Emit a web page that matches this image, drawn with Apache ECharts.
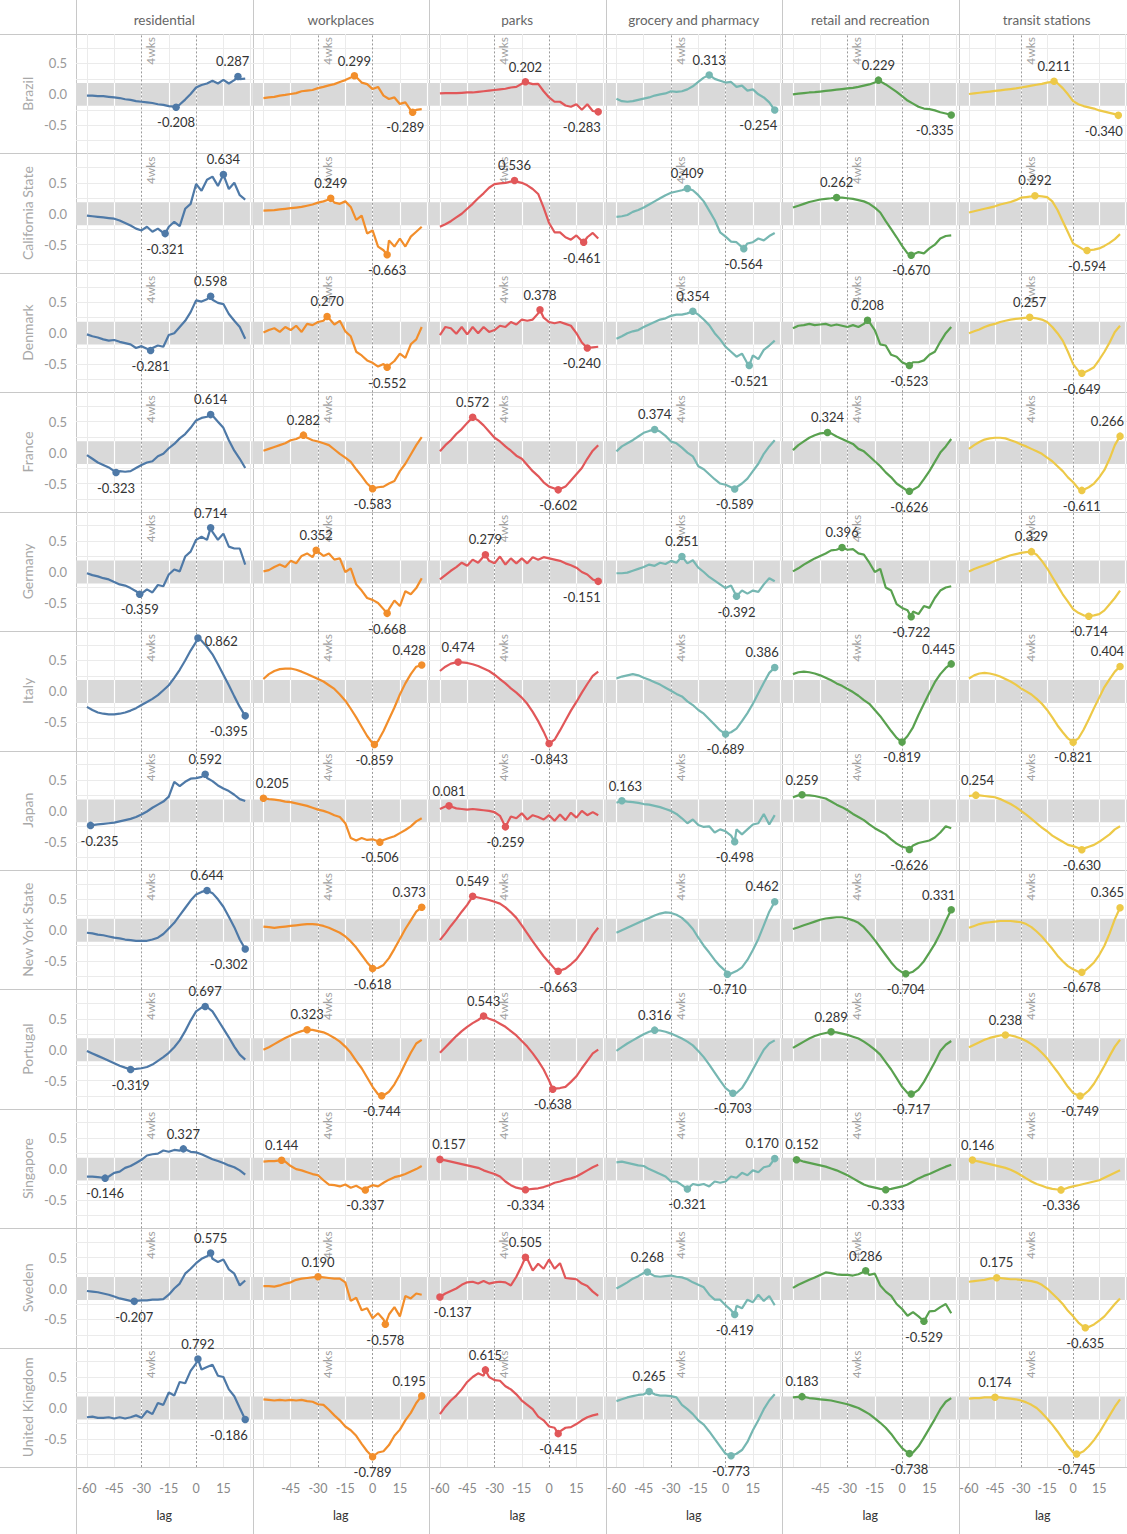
<!DOCTYPE html>
<html lang="en">
<head>
<meta charset="UTF-8">
<script src="https://cdn.jsdelivr.net/npm/echarts@6/dist/echarts.min.js"></script>
<title>Mobility change vs. lag</title>
<style>
  html, body { margin: 0; padding: 0; background: #fff; }
  #main { width: 1127px; height: 1534px; }
</style>
</head>
<body>
<div id="main"></div>
<script>
// sampled lags (every 3 days); peak points are merged in where they fall between samples
const lags = [-60,-57,-54,-51,-48,-45,-42,-39,-36,-33,-30,-27,-24,-21,-18,-15,-12,-9,-6,-3,0,3,6,9,12,15,18,21,24,27];
const regions = ['Brazil','California State','Denmark','France','Germany','Italy','Japan','New York State','Portugal','Singapore','Sweden','United Kingdom'];
const measures = ['residential','workplaces','parks','grocery and pharmacy','retail and recreation','transit stations'];
const colors = ['#4e79a7','#f28e2b','#e15759','#76b7b2','#59a14f','#edc948'];
const xTicks = [[-60,-45,-30,-15,0,15],[-45,-30,-15,0,15],[-60,-45,-30,-15,0,15],[-60,-45,-30,-15,0,15],[-45,-30,-15,0,15],[-60,-45,-30,-15,0,15]];
const yTicks = [-0.5, 0, 0.5];

// one array per region: residential, workplaces, parks, grocery, retail, transit
const brazil = [
  [-0.02,-0.02,-0.03,-0.03,-0.04,-0.05,-0.06,-0.08,-0.09,-0.11,-0.12,-0.13,-0.14,-0.16,-0.17,-0.19,-0.2,-0.165,-0.085,0.005,0.11,0.15,0.175,0.22,0.175,0.235,0.175,0.23,0.245,0.255],
  [-0.06,-0.05,-0.04,-0.02,-0.01,0.005,0.02,0.05,0.06,0.07,0.1,0.12,0.145,0.165,0.2,0.23,0.27,0.28,0.19,0.165,0.085,0.12,-0.02,-0.075,-0.05,-0.155,-0.13,-0.26,-0.25,-0.24],
  [0.015,0.02,0.02,0.02,0.025,0.03,0.03,0.04,0.05,0.06,0.07,0.08,0.09,0.11,0.12,0.17,0.19,0.165,0.17,0.05,-0.05,-0.12,-0.12,-0.18,-0.2,-0.16,-0.25,-0.16,-0.27,-0.283],
  [-0.07,-0.11,-0.12,-0.11,-0.09,-0.07,-0.05,-0.02,0.0,0.015,0.05,0.04,0.05,0.08,0.13,0.2,0.27,0.313,0.25,0.22,0.19,0.2,0.12,0.14,0.06,0.08,0.0,-0.05,-0.13,-0.254],
  [0.0,0.01,0.02,0.03,0.035,0.045,0.055,0.065,0.075,0.085,0.095,0.105,0.12,0.14,0.16,0.19,0.21,0.16,0.1,0.04,-0.03,-0.1,-0.15,-0.2,-0.23,-0.24,-0.26,-0.29,-0.31,-0.335],
  [0.005,0.015,0.025,0.035,0.045,0.055,0.065,0.075,0.085,0.095,0.11,0.125,0.14,0.155,0.17,0.19,0.2,0.18,0.1,0.0,-0.11,-0.16,-0.19,-0.21,-0.23,-0.26,-0.28,-0.3,-0.32,-0.335]
];
const california = [
  [-0.03,-0.04,-0.05,-0.06,-0.07,-0.08,-0.11,-0.15,-0.19,-0.24,-0.27,-0.21,-0.29,-0.24,-0.31,-0.21,-0.13,-0.2,0.08,0.16,0.48,0.37,0.55,0.6,0.45,0.634,0.4,0.5,0.3,0.23],
  [0.05,0.055,0.06,0.07,0.08,0.09,0.1,0.11,0.13,0.15,0.18,0.2,0.23,0.18,0.16,0.2,0.11,-0.1,-0.03,-0.32,-0.27,-0.53,-0.59,-0.43,-0.53,-0.4,-0.53,-0.37,-0.29,-0.21],
  [-0.21,-0.17,-0.12,-0.06,0.0,0.08,0.16,0.25,0.33,0.42,0.48,0.49,0.5,0.52,0.52,0.5,0.46,0.4,0.32,0.1,-0.15,-0.3,-0.3,-0.38,-0.42,-0.35,-0.44,-0.38,-0.31,-0.4],
  [-0.05,-0.04,-0.02,0.03,0.06,0.1,0.15,0.2,0.25,0.3,0.34,0.36,0.38,0.409,0.38,0.3,0.2,0.05,-0.1,-0.3,-0.37,-0.45,-0.46,-0.54,-0.48,-0.46,-0.4,-0.43,-0.36,-0.31],
  [0.1,0.13,0.16,0.19,0.21,0.23,0.24,0.25,0.262,0.26,0.25,0.24,0.22,0.2,0.16,0.1,0.02,-0.12,-0.25,-0.38,-0.52,-0.64,-0.66,-0.62,-0.64,-0.56,-0.5,-0.4,-0.36,-0.35],
  [0.02,0.04,0.06,0.08,0.1,0.12,0.15,0.17,0.19,0.22,0.26,0.27,0.28,0.29,0.28,0.27,0.2,0.06,-0.12,-0.3,-0.48,-0.53,-0.58,-0.59,-0.58,-0.56,-0.52,-0.47,-0.41,-0.33]
];
const denmark = [
  [-0.02,-0.05,-0.07,-0.1,-0.12,-0.11,-0.14,-0.16,-0.18,-0.24,-0.21,-0.25,-0.24,-0.2,-0.22,-0.03,0.0,0.1,0.2,0.34,0.53,0.51,0.55,0.54,0.49,0.47,0.31,0.2,0.1,-0.09],
  [0.01,0.05,0.08,0.02,0.1,0.05,0.12,0.02,0.15,0.13,0.18,0.2,0.24,0.14,0.2,0.03,-0.05,-0.3,-0.36,-0.44,-0.48,-0.54,-0.5,-0.52,-0.45,-0.33,-0.4,-0.18,-0.1,0.1],
  [-0.03,0.1,0.08,-0.01,0.1,-0.02,0.1,0.0,0.1,0.02,0.05,0.12,0.1,0.18,0.14,0.22,0.2,0.22,0.32,0.25,0.18,0.16,0.18,0.15,0.12,0.0,-0.15,-0.24,-0.23,-0.22],
  [-0.09,-0.05,0.0,0.03,0.05,0.1,0.14,0.18,0.22,0.24,0.28,0.3,0.3,0.32,0.354,0.3,0.22,0.13,0.0,-0.1,-0.22,-0.3,-0.38,-0.33,-0.49,-0.36,-0.42,-0.27,-0.2,-0.12],
  [0.08,0.12,0.13,0.15,0.13,0.14,0.15,0.12,0.14,0.12,0.1,0.13,0.1,0.15,0.18,0.05,-0.18,-0.2,-0.35,-0.38,-0.47,-0.51,-0.47,-0.47,-0.44,-0.35,-0.3,-0.14,0.0,0.1],
  [0.0,0.03,0.06,0.1,0.13,0.15,0.18,0.2,0.22,0.23,0.24,0.25,0.25,0.24,0.22,0.18,0.1,0.0,-0.12,-0.3,-0.5,-0.61,-0.64,-0.6,-0.55,-0.43,-0.3,-0.15,0.02,0.12]
];
const france = [
  [-0.04,-0.1,-0.16,-0.2,-0.24,-0.3,-0.3,-0.31,-0.3,-0.25,-0.2,-0.16,-0.14,-0.06,-0.02,0.07,0.14,0.23,0.3,0.4,0.52,0.56,0.58,0.6,0.5,0.4,0.2,0.03,-0.1,-0.25],
  [0.03,0.06,0.09,0.12,0.15,0.2,0.22,0.26,0.24,0.2,0.18,0.15,0.12,0.05,-0.02,-0.08,-0.15,-0.27,-0.38,-0.5,-0.583,-0.56,-0.55,-0.5,-0.46,-0.3,-0.18,-0.03,0.12,0.25],
  [0.02,0.12,0.2,0.3,0.38,0.48,0.572,0.52,0.44,0.34,0.24,0.18,0.1,0.03,-0.05,-0.1,-0.2,-0.3,-0.38,-0.48,-0.55,-0.58,-0.59,-0.55,-0.45,-0.35,-0.25,-0.1,0.03,0.12],
  [0.02,0.1,0.15,0.2,0.26,0.32,0.35,0.374,0.34,0.27,0.18,0.15,0.08,0.0,-0.06,-0.22,-0.27,-0.35,-0.43,-0.5,-0.52,-0.56,-0.56,-0.5,-0.42,-0.3,-0.18,-0.02,0.1,0.2],
  [0.04,0.12,0.18,0.24,0.28,0.31,0.32,0.31,0.26,0.22,0.18,0.14,0.06,0.02,-0.06,-0.14,-0.22,-0.32,-0.4,-0.5,-0.56,-0.62,-0.6,-0.55,-0.43,-0.3,-0.15,0.0,0.1,0.22],
  [0.06,0.12,0.17,0.21,0.23,0.24,0.24,0.23,0.2,0.17,0.13,0.1,0.06,0.02,-0.02,-0.08,-0.14,-0.22,-0.3,-0.4,-0.48,-0.58,-0.6,-0.56,-0.5,-0.4,-0.28,-0.1,0.12,0.266]
];
const germany = [
  [-0.02,-0.05,-0.07,-0.1,-0.12,-0.16,-0.2,-0.22,-0.26,-0.31,-0.35,-0.28,-0.33,-0.21,-0.23,-0.04,0.04,0.01,0.25,0.33,0.52,0.57,0.52,0.65,0.52,0.62,0.41,0.38,0.38,0.12],
  [0.01,0.03,0.08,0.12,0.08,0.18,0.14,0.26,0.3,0.24,0.33,0.26,0.3,0.2,0.22,0.0,0.06,-0.2,-0.3,-0.42,-0.45,-0.5,-0.6,-0.6,-0.46,-0.55,-0.31,-0.36,-0.26,-0.1],
  [-0.12,-0.05,0.02,0.08,0.15,0.1,0.2,0.15,0.25,0.18,0.14,0.25,0.12,0.22,0.14,0.22,0.14,0.24,0.2,0.24,0.22,0.2,0.18,0.14,0.11,0.07,0.0,-0.04,-0.12,-0.151],
  [-0.02,-0.02,-0.01,0.02,0.05,0.08,0.12,0.1,0.15,0.13,0.18,0.15,0.251,0.14,0.19,0.07,0.0,-0.08,-0.14,-0.2,-0.26,-0.22,-0.392,-0.3,-0.35,-0.3,-0.32,-0.2,-0.1,-0.15],
  [0.01,0.06,0.12,0.17,0.22,0.26,0.3,0.35,0.36,0.396,0.36,0.37,0.3,0.28,0.15,0.0,0.05,-0.25,-0.3,-0.52,-0.58,-0.62,-0.64,-0.68,-0.55,-0.58,-0.42,-0.3,-0.25,-0.23],
  [0.01,0.05,0.08,0.11,0.14,0.18,0.21,0.24,0.27,0.29,0.31,0.32,0.329,0.28,0.18,0.06,-0.08,-0.22,-0.36,-0.48,-0.6,-0.66,-0.7,-0.714,-0.7,-0.68,-0.62,-0.52,-0.42,-0.3]
];
const italy = [
  [-0.25,-0.3,-0.34,-0.36,-0.37,-0.37,-0.36,-0.34,-0.31,-0.27,-0.22,-0.17,-0.12,-0.06,0.02,0.1,0.22,0.35,0.5,0.66,0.8,0.82,0.72,0.6,0.44,0.27,0.1,-0.08,-0.25,-0.395],
  [0.2,0.28,0.33,0.36,0.37,0.37,0.35,0.32,0.28,0.24,0.2,0.16,0.1,0.04,-0.05,-0.15,-0.28,-0.42,-0.57,-0.72,-0.84,-0.8,-0.64,-0.45,-0.26,-0.05,0.13,0.28,0.4,0.428],
  [0.33,0.4,0.45,0.47,0.47,0.46,0.44,0.41,0.37,0.33,0.27,0.2,0.13,0.05,-0.02,-0.1,-0.2,-0.33,-0.48,-0.65,-0.843,-0.78,-0.63,-0.47,-0.31,-0.17,-0.02,0.12,0.25,0.32],
  [0.21,0.24,0.26,0.28,0.26,0.22,0.19,0.15,0.11,0.06,0.01,-0.04,-0.08,-0.16,-0.22,-0.3,-0.36,-0.45,-0.54,-0.63,-0.689,-0.66,-0.6,-0.48,-0.35,-0.2,-0.03,0.14,0.3,0.386],
  [0.28,0.31,0.32,0.31,0.29,0.26,0.22,0.18,0.13,0.09,0.04,-0.01,-0.07,-0.14,-0.2,-0.3,-0.4,-0.52,-0.64,-0.75,-0.819,-0.72,-0.58,-0.38,-0.2,-0.02,0.15,0.28,0.38,0.445],
  [0.21,0.26,0.29,0.3,0.29,0.27,0.24,0.2,0.16,0.11,0.05,0.0,-0.05,-0.12,-0.2,-0.3,-0.42,-0.55,-0.66,-0.76,-0.821,-0.76,-0.62,-0.45,-0.27,-0.1,0.07,0.2,0.32,0.404]
];
const japan = [
  [-0.23,-0.23,-0.22,-0.21,-0.2,-0.19,-0.17,-0.15,-0.13,-0.1,-0.06,-0.01,0.05,0.1,0.15,0.23,0.47,0.4,0.47,0.52,0.53,0.55,0.53,0.48,0.41,0.36,0.32,0.26,0.19,0.16],
  [0.205,0.19,0.18,0.17,0.15,0.14,0.12,0.1,0.08,0.05,0.02,0.0,-0.03,-0.07,-0.1,-0.2,-0.44,-0.48,-0.44,-0.47,-0.46,-0.49,-0.47,-0.44,-0.41,-0.36,-0.31,-0.25,-0.17,-0.12],
  [0.03,0.07,0.07,0.04,0.03,0.02,0.03,0.02,0.01,0.0,-0.02,-0.08,-0.259,-0.09,-0.12,-0.04,-0.14,-0.07,-0.1,-0.14,-0.07,-0.16,-0.06,-0.15,-0.03,-0.11,0.0,-0.07,-0.02,-0.07],
  [0.13,0.163,0.15,0.14,0.13,0.11,0.1,0.08,0.06,0.03,0.0,-0.05,-0.12,-0.2,-0.14,-0.23,-0.26,-0.25,-0.35,-0.3,-0.33,-0.4,-0.3,-0.38,-0.3,-0.22,-0.2,-0.05,-0.22,-0.07],
  [0.22,0.25,0.255,0.25,0.24,0.22,0.2,0.15,0.1,0.06,0.01,-0.05,-0.1,-0.15,-0.22,-0.28,-0.33,-0.38,-0.46,-0.53,-0.58,-0.6,-0.56,-0.52,-0.5,-0.48,-0.43,-0.35,-0.25,-0.28],
  [0.24,0.25,0.25,0.24,0.23,0.22,0.19,0.15,0.11,0.06,0.0,-0.06,-0.13,-0.2,-0.27,-0.33,-0.4,-0.45,-0.5,-0.55,-0.57,-0.6,-0.61,-0.58,-0.55,-0.5,-0.44,-0.38,-0.3,-0.25]
];
const newYork = [
  [-0.04,-0.05,-0.07,-0.08,-0.1,-0.12,-0.13,-0.15,-0.16,-0.17,-0.17,-0.17,-0.15,-0.12,-0.06,0.03,0.12,0.24,0.36,0.48,0.58,0.62,0.644,0.6,0.5,0.38,0.22,0.05,-0.15,-0.302],
  [0.06,0.05,0.04,0.05,0.06,0.07,0.08,0.09,0.1,0.1,0.09,0.07,0.04,0.0,-0.04,-0.1,-0.18,-0.28,-0.4,-0.52,-0.618,-0.61,-0.56,-0.45,-0.3,-0.14,0.02,0.16,0.3,0.373],
  [-0.16,-0.05,0.07,0.18,0.3,0.41,0.549,0.53,0.51,0.49,0.46,0.43,0.37,0.29,0.2,0.08,-0.05,-0.18,-0.3,-0.42,-0.52,-0.62,-0.65,-0.62,-0.55,-0.47,-0.35,-0.22,-0.07,0.04],
  [-0.04,0.0,0.04,0.08,0.12,0.16,0.2,0.24,0.27,0.29,0.28,0.25,0.2,0.12,0.02,-0.12,-0.25,-0.36,-0.48,-0.58,-0.66,-0.7,-0.66,-0.6,-0.48,-0.32,-0.14,0.08,0.3,0.462],
  [0.02,0.05,0.08,0.11,0.14,0.17,0.19,0.2,0.21,0.21,0.19,0.16,0.12,0.05,-0.05,-0.16,-0.28,-0.4,-0.52,-0.62,-0.68,-0.7,-0.67,-0.6,-0.5,-0.36,-0.22,-0.05,0.15,0.331],
  [0.04,0.07,0.1,0.12,0.13,0.14,0.15,0.15,0.15,0.14,0.13,0.1,0.05,-0.02,-0.1,-0.2,-0.3,-0.41,-0.5,-0.58,-0.63,-0.67,-0.67,-0.6,-0.52,-0.4,-0.25,-0.05,0.18,0.365]
];
const portugal = [
  [-0.02,-0.06,-0.1,-0.14,-0.18,-0.22,-0.26,-0.29,-0.319,-0.31,-0.3,-0.28,-0.24,-0.18,-0.12,-0.05,0.04,0.15,0.3,0.47,0.62,0.68,0.69,0.62,0.48,0.34,0.2,0.05,-0.08,-0.16],
  [0.0,0.04,0.09,0.14,0.19,0.23,0.27,0.3,0.323,0.32,0.3,0.28,0.24,0.19,0.13,0.05,-0.05,-0.18,-0.3,-0.45,-0.6,-0.72,-0.74,-0.68,-0.56,-0.4,-0.22,-0.05,0.1,0.16],
  [-0.05,0.04,0.13,0.22,0.3,0.37,0.43,0.48,0.543,0.5,0.47,0.42,0.37,0.3,0.23,0.14,0.05,-0.06,-0.18,-0.32,-0.5,-0.63,-0.62,-0.6,-0.52,-0.43,-0.3,-0.18,-0.06,0.0],
  [-0.02,0.04,0.1,0.15,0.2,0.25,0.29,0.316,0.31,0.29,0.26,0.22,0.18,0.13,0.07,-0.02,-0.12,-0.24,-0.37,-0.5,-0.62,-0.69,-0.7,-0.62,-0.48,-0.32,-0.16,0.0,0.1,0.15],
  [0.03,0.08,0.13,0.18,0.22,0.25,0.27,0.289,0.28,0.26,0.24,0.21,0.18,0.13,0.07,0.0,-0.08,-0.2,-0.32,-0.46,-0.6,-0.7,-0.71,-0.65,-0.52,-0.36,-0.2,-0.02,0.08,0.14],
  [0.04,0.08,0.12,0.16,0.19,0.21,0.23,0.238,0.23,0.21,0.18,0.14,0.09,0.03,-0.05,-0.14,-0.25,-0.36,-0.48,-0.6,-0.7,-0.74,-0.73,-0.66,-0.55,-0.41,-0.26,-0.1,0.05,0.16]
];
const singapore = [
  [-0.12,-0.12,-0.13,-0.14,-0.12,-0.06,-0.04,0.02,0.05,0.1,0.15,0.22,0.24,0.25,0.3,0.28,0.31,0.3,0.32,0.28,0.27,0.24,0.2,0.16,0.13,0.1,0.06,0.03,-0.02,-0.09],
  [0.12,0.13,0.13,0.14,0.12,0.05,0.0,-0.02,-0.05,-0.08,-0.1,-0.18,-0.25,-0.26,-0.28,-0.25,-0.3,-0.27,-0.32,-0.3,-0.26,-0.28,-0.22,-0.17,-0.13,-0.11,-0.08,-0.04,0.0,0.05],
  [0.157,0.14,0.12,0.1,0.08,0.06,0.04,0.02,-0.02,-0.05,-0.08,-0.12,-0.2,-0.26,-0.3,-0.32,-0.33,-0.32,-0.31,-0.29,-0.26,-0.22,-0.2,-0.17,-0.15,-0.12,-0.07,-0.02,0.03,0.07],
  [0.11,0.12,0.1,0.08,0.06,0.05,0.0,-0.04,-0.08,-0.12,-0.2,-0.2,-0.26,-0.321,-0.24,-0.26,-0.24,-0.28,-0.2,-0.22,-0.2,-0.12,-0.14,-0.06,-0.1,-0.02,-0.05,0.03,0.05,0.17],
  [0.14,0.15,0.12,0.1,0.08,0.06,0.04,0.01,-0.02,-0.06,-0.1,-0.15,-0.2,-0.25,-0.28,-0.3,-0.32,-0.333,-0.32,-0.3,-0.28,-0.25,-0.2,-0.15,-0.11,-0.08,-0.04,0.0,0.04,0.07],
  [0.14,0.14,0.12,0.1,0.08,0.06,0.04,0.02,-0.01,-0.05,-0.1,-0.15,-0.2,-0.24,-0.27,-0.3,-0.32,-0.33,-0.33,-0.3,-0.28,-0.26,-0.24,-0.22,-0.2,-0.18,-0.14,-0.1,-0.06,-0.02]
];
const sweden = [
  [-0.04,-0.05,-0.06,-0.08,-0.1,-0.13,-0.16,-0.18,-0.2,-0.2,-0.19,-0.19,-0.18,-0.18,-0.17,-0.1,0.0,0.08,0.24,0.32,0.41,0.48,0.52,0.48,0.43,0.47,0.31,0.24,0.05,0.13],
  [0.04,0.04,0.03,0.05,0.08,0.1,0.14,0.16,0.17,0.18,0.19,0.18,0.17,0.16,0.16,0.1,-0.2,-0.15,-0.35,-0.32,-0.48,-0.4,-0.5,-0.42,-0.3,-0.45,-0.12,-0.16,-0.08,-0.1],
  [-0.137,-0.08,-0.04,0.0,0.06,0.1,0.11,0.08,0.12,0.08,0.1,0.11,0.1,0.05,0.19,0.37,0.48,0.29,0.4,0.32,0.47,0.32,0.41,0.17,0.16,0.15,0.08,0.04,-0.05,-0.12],
  [0.0,0.05,0.1,0.16,0.2,0.25,0.25,0.2,0.19,0.2,0.21,0.19,0.18,0.15,0.1,0.06,0.02,-0.1,-0.18,-0.18,-0.27,-0.35,-0.28,-0.32,-0.18,-0.22,-0.1,-0.2,-0.12,-0.27],
  [0.01,0.06,0.1,0.14,0.18,0.22,0.26,0.25,0.23,0.22,0.22,0.21,0.23,0.27,0.22,0.24,0.05,-0.05,-0.12,-0.25,-0.33,-0.44,-0.38,-0.45,-0.529,-0.37,-0.36,-0.3,-0.25,-0.4],
  [0.11,0.12,0.13,0.14,0.16,0.17,0.17,0.16,0.15,0.15,0.14,0.13,0.12,0.1,0.06,0.0,-0.08,-0.16,-0.25,-0.36,-0.45,-0.55,-0.62,-0.62,-0.58,-0.52,-0.45,-0.35,-0.25,-0.16]
];
const uk = [
  [-0.15,-0.14,-0.16,-0.16,-0.15,-0.17,-0.15,-0.17,-0.15,-0.12,-0.16,-0.05,-0.1,0.08,0.05,0.25,0.2,0.42,0.4,0.6,0.72,0.62,0.66,0.7,0.52,0.5,0.3,0.19,0.0,-0.186],
  [0.14,0.13,0.12,0.13,0.12,0.13,0.12,0.13,0.11,0.1,0.06,0.05,-0.03,-0.12,-0.2,-0.3,-0.36,-0.45,-0.58,-0.7,-0.789,-0.72,-0.7,-0.6,-0.45,-0.35,-0.2,-0.08,0.08,0.195],
  [-0.1,0.02,0.12,0.2,0.3,0.42,0.5,0.56,0.52,0.5,0.45,0.44,0.35,0.3,0.22,0.12,0.05,-0.02,-0.14,-0.2,-0.3,-0.32,-0.38,-0.32,-0.31,-0.26,-0.2,-0.15,-0.12,-0.1],
  [0.11,0.14,0.17,0.19,0.21,0.22,0.265,0.22,0.2,0.2,0.19,0.17,0.05,-0.02,-0.1,-0.2,-0.27,-0.38,-0.5,-0.62,-0.74,-0.773,-0.74,-0.68,-0.55,-0.36,-0.2,-0.02,0.12,0.22],
  [0.17,0.18,0.18,0.16,0.15,0.14,0.13,0.12,0.1,0.08,0.06,0.03,0.0,-0.05,-0.1,-0.17,-0.24,-0.32,-0.42,-0.54,-0.65,-0.72,-0.72,-0.62,-0.48,-0.33,-0.18,-0.02,0.1,0.16],
  [0.15,0.16,0.16,0.17,0.17,0.17,0.17,0.16,0.15,0.14,0.12,0.09,0.05,0.0,-0.08,-0.17,-0.27,-0.38,-0.5,-0.62,-0.72,-0.74,-0.7,-0.62,-0.52,-0.4,-0.26,-0.12,0.02,0.14]
];

// labelled extremes per panel: [lag of max, max, lag of min, min]
const brazilPk = [[23,0.287,-11,-0.208],[-10,0.299,22,-0.289],[-13,0.202,27,-0.283],[-9,0.313,27,-0.254],[-13,0.229,27,-0.335],[-11,0.211,26,-0.340]];
const californiaPk = [[15,0.634,-17,-0.321],[-23,0.249,8,-0.663],[-19,0.536,19,-0.461],[-21,0.409,10,-0.564],[-36,0.262,5,-0.670],[-22,0.292,8,-0.594]];
const denmarkPk = [[8,0.598,-25,-0.281],[-25,0.270,8,-0.552],[-5,0.378,21,-0.240],[-18,0.354,13,-0.521],[-19,0.208,4,-0.523],[-25,0.257,5,-0.649]];
const francePk = [[8,0.614,-44,-0.323],[-38,0.282,0,-0.583],[-42,0.572,5,-0.602],[-39,0.374,5,-0.589],[-41,0.324,4,-0.626],[27,0.266,5,-0.611]];
const germanyPk = [[8,0.714,-31,-0.359],[-31,0.352,8,-0.668],[-35,0.279,27,-0.151],[-24,0.251,6,-0.392],[-33,0.396,5,-0.722],[-24,0.329,9,-0.714]];
const italyPk = [[1,0.862,27,-0.395],[27,0.428,1,-0.859],[-50,0.474,0,-0.843],[27,0.386,0,-0.689],[27,0.445,0,-0.819],[27,0.404,0,-0.821]];
const japanPk = [[5,0.592,-58,-0.235],[-60,0.205,4,-0.506],[-55,0.081,-24,-0.259],[-57,0.163,5,-0.498],[-55,0.259,4,-0.626],[-56,0.254,5,-0.630]];
const newYorkPk = [[6,0.644,27,-0.302],[27,0.373,0,-0.618],[-42,0.549,5,-0.663],[27,0.462,1,-0.710],[27,0.331,2,-0.704],[27,0.365,5,-0.678]];
const portugalPk = [[5,0.697,-36,-0.319],[-36,0.323,5,-0.744],[-36,0.543,2,-0.638],[-39,0.316,4,-0.703],[-39,0.289,5,-0.717],[-39,0.238,4,-0.749]];
const singaporePk = [[-7,0.327,-50,-0.146],[-50,0.144,-4,-0.337],[-60,0.157,-13,-0.334],[27,0.170,-21,-0.321],[-58,0.152,-9,-0.333],[-58,0.146,-7,-0.336]];
const swedenPk = [[8,0.575,-34,-0.207],[-30,0.190,7,-0.578],[-13,0.505,-60,-0.137],[-43,0.268,5,-0.419],[-20,0.286,12,-0.529],[-44,0.175,7,-0.635]];
const ukPk = [[1,0.792,27,-0.186],[27,0.195,0,-0.789],[-35,0.615,5,-0.415],[-42,0.265,3,-0.773],[-55,0.183,4,-0.738],[-45,0.174,2,-0.745]];

const values = [brazil, california, denmark, france, germany, italy, japan, newYork, portugal, singapore, sweden, uk];
const peaks = [brazilPk, californiaPk, denmarkPk, francePk, germanyPk, italyPk, japanPk, newYorkPk, portugalPk, singaporePk, swedenPk, ukPk];

var chart = echarts.init(document.getElementById('main'), null, { renderer: 'svg' });

// panel layout
var colLeft = 76, colW = 176.5, rowTop = 34, rowH = 119.42;
var xMin = -66, xMax = 31;
var band = 0.185;
var gridColor = '#ebebeb';
var dashStyle = { color: '#9a9a9a', width: 1, type: [2, 2] };
var labelSize = 13;

var grids = [], xAxes = [], yAxes = [], series = [];

// merge the labelled extremes into the sampled line
function lineData(vals, pk) {
  var pts = lags.map(function (l, k) { return [l, vals[k]]; });
  [[pk[0], pk[1]], [pk[2], pk[3]]].forEach(function (p) {
    pts = pts.filter(function (q) { return q[0] !== p[0]; });
    pts.push(p);
  });
  return pts.sort(function (a, b) { return a[0] - b[0]; });
}

// keep a label inside its pane, like the original does
function keepInside(lag, val) {
  var half = val.toFixed(3).length * labelSize * 0.29 + 1;
  var x = (lag - xMin) / (xMax - xMin) * colW;
  if (x - half < 0) return [half - x, 0];
  if (x + half > colW) return [colW - x - half, 0];
  return [0, 0];
}

function panelMarks() {
  var lines = [];
  [-0.75, -0.5, -0.25, 0.25, 0.5, 0.75].forEach(function (v) {
    lines.push({ yAxis: v, lineStyle: { color: gridColor, width: 1, type: 'solid' } });
  });
  [-60, -45, -15, 15, 30].forEach(function (v) {
    lines.push({ xAxis: v, lineStyle: { color: gridColor, width: 1, type: 'solid' } });
  });
  [-60, -45, -30, -15, 0, 15, 30].forEach(function (v) {
    var st = { color: '#ffffff', width: 1.2, type: 'solid' };
    lines.push([{ coord: [v, -band], lineStyle: st }, { coord: [v, band], lineStyle: st }]);
  });
  lines.push({ xAxis: -30, lineStyle: dashStyle,
    label: { show: true, formatter: '4wks', position: 'insideEndBottom', color: '#a0a0a0', fontSize: 12, distance: 3 } });
  lines.push({ xAxis: 0, lineStyle: dashStyle });
  return lines;
}

regions.forEach(function (region, r) {
  measures.forEach(function (measure, c) {
    var i = r * 6 + c;
    var pk = peaks[r][c];
    grids.push({ left: colLeft + c * colW, top: rowTop + r * rowH, width: colW, height: rowH });
    xAxes.push({
      gridIndex: i, type: 'value', min: xMin, max: xMax,
      axisLine: { show: false }, axisTick: { show: false }, splitLine: { show: false },
      axisLabel: { show: r === 11, customValues: xTicks[c], color: '#888', fontSize: 12.5, margin: 15 },
      name: r === 11 ? 'lag' : '', nameLocation: 'middle', nameGap: 42,
      nameTextStyle: { color: '#333', fontSize: 12.5 }
    });
    yAxes.push({
      gridIndex: i, type: 'value', min: -0.955, max: 0.975,
      axisLine: { show: false }, axisTick: { show: false }, splitLine: { show: false },
      axisLabel: { show: c === 0, customValues: yTicks, color: '#999', fontSize: 13, margin: 9,
        formatter: function (v) { return v.toFixed(1); } },
      name: c === 0 ? region : '', nameLocation: 'middle', nameRotate: 90, nameGap: 42,
      nameTextStyle: { color: '#a8a8a8', fontSize: 14 }
    });
    series.push({
      type: 'line', xAxisIndex: i, yAxisIndex: i, z: 6, silent: true,
      data: lineData(values[r][c], pk), showSymbol: false, symbol: 'none',
      lineStyle: { color: colors[c], width: 2.2 },
      markArea: { silent: true, itemStyle: { color: '#d9d9d9' }, data: [[{ yAxis: -band }, { yAxis: band }]] },
      markLine: { silent: true, symbol: ['none', 'none'], label: { show: false }, data: panelMarks() }
    });
    var hiRight = (r === 5 && c === 0);
    series.push({
      type: 'scatter', xAxisIndex: i, yAxisIndex: i, z: 7, silent: true,
      symbolSize: 7.5, itemStyle: { color: colors[c], opacity: 1 },
      label: { show: true, color: '#333', fontSize: labelSize, formatter: function (p) { return p.value[1].toFixed(3); } },
      data: [
        { value: [pk[0], pk[1]], label: hiRight ? { position: 'right', offset: [-2, 3] } : { position: 'top', offset: keepInside(pk[0], pk[1]) } },
        { value: [pk[2], pk[3]], label: { position: 'bottom', offset: keepInside(pk[2], pk[3]) } }
      ]
    });
  });
});

// frame lines and column headers
var graphic = [];
var lineCol = '#c8c8c8';
for (var c = 0; c <= 6; c++) {
  var x = Math.round(colLeft + c * colW) + 0.5;
  graphic.push({ type: 'line', shape: { x1: x, y1: 0, x2: x, y2: 1534 }, style: { stroke: lineCol, lineWidth: 1 }, silent: true });
}
for (var r = 0; r <= 12; r++) {
  var y = Math.round(rowTop + r * rowH) + 0.5;
  graphic.push({ type: 'line', shape: { x1: 0, y1: y, x2: 1127, y2: y }, style: { stroke: lineCol, lineWidth: 1 }, silent: true });
}
measures.forEach(function (m, c) {
  graphic.push({ type: 'text', x: colLeft + c * colW + colW / 2, y: 20, silent: true,
    style: { text: m, fill: '#666', font: '13.5px Lato', align: 'center', verticalAlign: 'middle' } });
});

chart.setOption({
  animation: false,
  textStyle: { fontFamily: 'Lato' },
  grid: grids,
  xAxis: xAxes,
  yAxis: yAxes,
  series: series,
  graphic: graphic
});
</script>
</body>
</html>
